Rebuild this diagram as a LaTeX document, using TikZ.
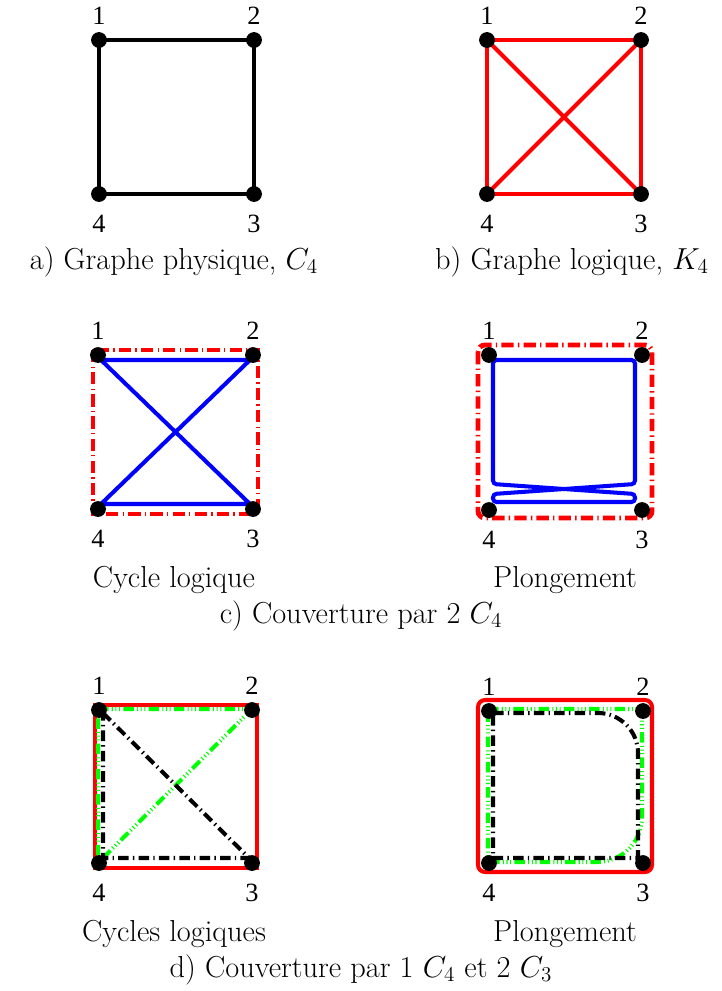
\documentclass[tikz,border=0pt]{standalone}
\usepackage{fontspec}
\newfontfamily\timesfam{LiberationSerif-Regular.ttf}
\usetikzlibrary{calc}
\pgfdeclarelayer{bg}
\pgfsetlayers{bg,main}

\begin{document}
\begin{tikzpicture}[
  x=0.02cm,y=-0.02cm,
  line join=round,
  vtx/.style={circle,fill=black,inner sep=0pt,minimum size=9pt},
  num/.style={font=\fontsize{15}{18}\selectfont\timesfam,inner sep=0pt},
  lup/.style={label={[num,label distance=4pt]above:#1}},
  ldn/.style={label={[num,label distance=7pt]below:#1}},
  capt/.style={font=\fontsize{17.28}{20}\selectfont,inner sep=0pt,anchor=base},
  phys/.style={draw=black,line width=2.3pt},
  logi/.style={draw=red,line width=2.3pt},
  cyc/.style={draw=blue,line width=2.3pt},
  cover/.style={draw=red,line width=2.8pt,
    dash pattern=on 7pt off 2.4pt on 0.8pt off 2.4pt},
  trig/.style={draw=green,line width=2.3pt,
    dash pattern=on 6pt off 1.8pt on 0.6pt off 1.5pt on 0.6pt off 1.5pt on 0.6pt off 1.8pt},
  trik/.style={draw=black,line width=2.3pt,
    dash pattern=on 6pt off 2.4pt on 0.8pt off 2.4pt}
]
\useasboundingbox (0,0) rectangle (722,991);

% a) physical graph C4
\begin{scope}[shift={(99,40)}]
  \node[vtx,lup=1] (a1) at (0,0) {};
  \node[vtx,lup=2] (a2) at (155,0) {};
  \node[vtx,ldn=3] (a3) at (155,154) {};
  \node[vtx,ldn=4] (a4) at (0,154) {};
  \begin{pgfonlayer}{bg}
    \draw[phys] (a1.center) -- (a2.center) -- (a3.center) -- (a4.center) -- cycle;
  \end{pgfonlayer}
\end{scope}

% b) logical graph K4
\begin{scope}[shift={(487,40)}]
  \node[vtx,lup=1] (b1) at (0,0) {};
  \node[vtx,lup=2] (b2) at (154,0) {};
  \node[vtx,ldn=3] (b3) at (154,154) {};
  \node[vtx,ldn=4] (b4) at (0,154) {};
  \begin{pgfonlayer}{bg}
    \draw[logi] (b1.center) -- (b2.center) -- (b3.center) -- (b4.center) -- cycle;
    \draw[logi] (b1.center) -- (b3.center);
    \draw[logi] (b2.center) -- (b4.center);
  \end{pgfonlayer}
\end{scope}

% c) logical cycle
\begin{scope}[shift={(98,355)}]
  \node[vtx,lup=1] (cl1) at (0,0) {};
  \node[vtx,lup=2] (cl2) at (155,0) {};
  \node[vtx,ldn=3] (cl3) at (155,154) {};
  \node[vtx,ldn=4] (cl4) at (0,154) {};
  \begin{pgfonlayer}{bg}
    \draw[cover] ($(cl1)+(-5,-5)$) rectangle ($(cl3)+(5,5)$);
    \draw[cyc] ($(cl1)+(3,5)$) -- ($(cl2)+(-3,5)$) -- ($(cl4)+(3,-5)$)
      -- ($(cl3)+(-3,-5)$) -- cycle;
  \end{pgfonlayer}
\end{scope}

% c) embedding
\begin{scope}[shift={(489,355)}]
  \node[vtx,lup=1] (cr1) at (0,0) {};
  \node[vtx,lup=2] (cr2) at (153,0) {};
  \node[vtx,ldn=3] (cr3) at (153,155) {};
  \node[vtx,ldn=4] (cr4) at (0,155) {};
  \begin{pgfonlayer}{bg}
    \draw[cover,rounded corners=4pt] ($(cr1)+(-11,-10)$) rectangle ($(cr3)+(10,8)$);
    \draw[cyc,rounded corners=2pt] ($(cr1)+(4,5)$) -- ($(cr2)+(-7,5)$)
      -- ($(cr3)+(-7,-26)$) -- ($(cr4)+(4,-16)$) -- ($(cr4)+(4,-8)$)
      -- ($(cr3)+(-7,-8)$) -- ($(cr3)+(-7,-16)$) -- ($(cr4)+(4,-26)$) -- cycle;
  \end{pgfonlayer}
\end{scope}

% d) logical cycles
\begin{scope}[shift={(99,710)}]
  \node[vtx,lup=1] (dl1) at (0,0) {};
  \node[vtx,lup=2] (dl2) at (153,0) {};
  \node[vtx,ldn=3] (dl3) at (153,153) {};
  \node[vtx,ldn=4] (dl4) at (0,153) {};
  \begin{pgfonlayer}{bg}
    \draw[logi] ($(dl1)+(-4,-5)$) rectangle ($(dl3)+(5,5)$);
    \draw[trig] ($(dl1)+(-1,-1)$) -- ($(dl2)+(0,-1)$) -- ($(dl4)+(-1,0)$) -- cycle;
    \draw[trik] ($(dl1)+(4,3)$) -- ($(dl3)+(-3,-5)$) -- ($(dl4)+(4,-5)$) -- cycle;
  \end{pgfonlayer}
\end{scope}

% d) embedding
\begin{scope}[shift={(489,711)}]
  \node[vtx,lup=1] (dr1) at (0,0) {};
  \node[vtx,lup=2] (dr2) at (154,0) {};
  \node[vtx,ldn=3] (dr3) at (154,152) {};
  \node[vtx,ldn=4] (dr4) at (0,152) {};
  \begin{pgfonlayer}{bg}
    \draw[logi,rounded corners=4pt] ($(dr1)+(-11,-11)$) rectangle ($(dr3)+(9,9)$);
    \draw[trig] ($(dr1)+(-1,-2)$) -- ($(dr2)+(-1,-2)$) -- ($(dr3)+(-1,-46)$)
      .. controls ($(dr3)+(-1,-21)$) and ($(dr3)+(-21,-1)$) .. ($(dr3)+(-46,-1)$)
      -- ($(dr4)+(-1,-1)$) -- cycle;
    \draw[trik] ($(dr1)+(4,2)$) -- ($(dr2)+(-45,2)$)
      .. controls ($(dr2)+(-23,2)$) and ($(dr2)+(-5,20)$) .. ($(dr2)+(-5,42)$)
      -- ($(dr3)+(-5,-5)$) -- ($(dr4)+(4,-5)$) -- cycle;
  \end{pgfonlayer}
\end{scope}

% captions
\node[capt] (capa) at (174,269) {a) Graphe physique, $C_4$};
\node[capt] (capb) at (572,269) {b) Graphe logique, $K_4$};
\node[capt] (capcl) at (174,587) {Cycle logique};
\node[capt] (capcr) at (565,587) {Plongement};
\node[capt] (capc) at (361,623) {c) Couverture par 2 $C_4$};
\node[capt] (capdl) at (174,941) {Cycles logiques};
\node[capt] (capdr) at (565,941) {Plongement};
\node[capt] (capd) at (361,977) {d) Couverture par 1 $C_4$ et 2 $C_3$};

\end{tikzpicture}
\end{document}
